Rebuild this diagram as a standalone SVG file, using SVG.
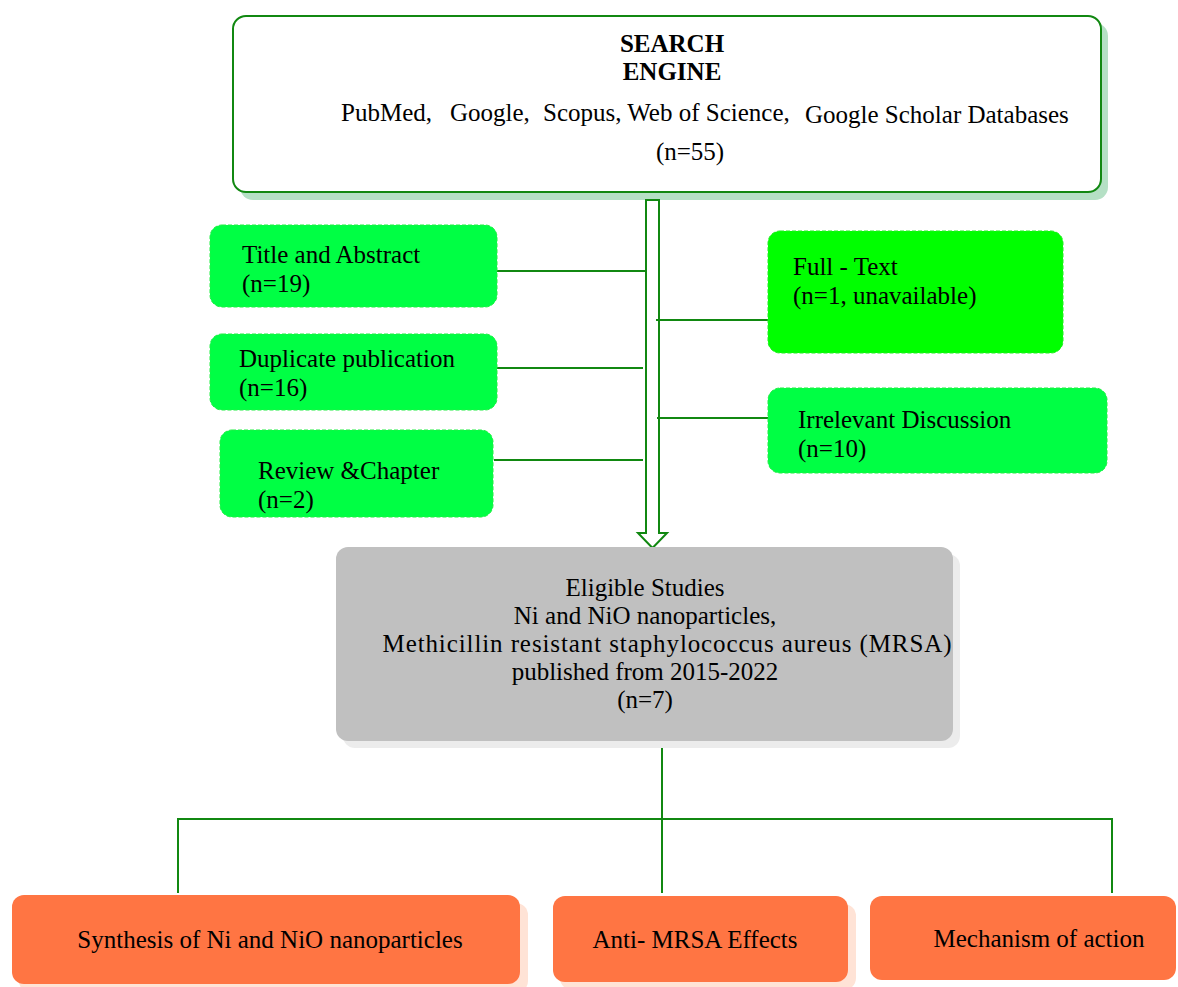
<svg xmlns="http://www.w3.org/2000/svg" width="1178" height="987" viewBox="0 0 1178 987">
<style>
text{font-family:"Liberation Serif","Times New Roman",serif;font-size:25px;fill:#000}
.b{font-weight:bold}
.m{text-anchor:middle}
.ln{stroke:#118811;stroke-width:2;fill:none}
.g1{fill:#00ff44;stroke:#22ee44;stroke-width:1;stroke-dasharray:4 2}
.g2{fill:#00ff00;stroke:#22ee22;stroke-width:1;stroke-dasharray:4 2}
.or{fill:#ff7543}
.ors{fill:#ffe3d6}
</style>
<rect width="1178" height="987" fill="#fff"/>
<g id="search">
<rect x="240" y="23" width="868" height="177" rx="13" fill="#b5e0c5"/>
<rect x="233" y="16" width="868" height="176" rx="13" fill="#fff" stroke="#118811" stroke-width="2"/>
<text class="b m" x="672" y="52">SEARCH</text>
<text class="b m" x="672" y="80">ENGINE</text>
<text x="341" y="121">PubMed,</text>
<text x="450" y="121">Google,</text>
<text x="543" y="121">Scopus, Web of Science,</text>
<text x="805" y="123">Google Scholar Databases</text>
<text class="m" x="690" y="160">(n=55)</text>
</g>
<g id="connectors">
<path d="M646 200 V533 H638 L652.5 548 L667 533 H659 V200 Z" fill="#fff" stroke="#118811" stroke-width="2" stroke-linejoin="miter"/>
<line class="ln" x1="497" y1="271" x2="645" y2="271"/>
<line class="ln" x1="494" y1="368" x2="643" y2="368"/>
<line class="ln" x1="494" y1="460" x2="643" y2="460"/>
<line class="ln" x1="656" y1="320" x2="768" y2="320"/>
<line class="ln" x1="657" y1="418" x2="768" y2="418"/>
<line class="ln" x1="662" y1="741" x2="662" y2="893"/>
<polyline class="ln" points="178,893 178,819 1112,819 1112,893"/>
</g>
<g id="title-abstract">
<rect class="g1" x="210" y="225" width="287" height="82" rx="12"/>
<text x="242" y="263">Title and Abstract</text>
<text x="242" y="292">(n=19)</text>
</g>
<g id="duplicate">
<rect class="g1" x="210" y="334" width="287" height="76" rx="12"/>
<text x="239" y="367">Duplicate publication</text>
<text x="239" y="396">(n=16)</text>
</g>
<g id="review">
<rect class="g1" x="220" y="430" width="273" height="87" rx="12"/>
<text x="258" y="479">Review &amp;Chapter</text>
<text x="258" y="508">(n=2)</text>
</g>
<g id="full-text">
<rect class="g2" x="768" y="231" width="295" height="122" rx="12"/>
<text x="793" y="275">Full - Text</text>
<text x="793" y="304">(n=1, unavailable)</text>
</g>
<g id="irrelevant">
<rect class="g1" x="768" y="388" width="339" height="85" rx="12"/>
<text x="798" y="428">Irrelevant Discussion</text>
<text x="798" y="457">(n=10)</text>
</g>
<g id="eligible">
<rect x="343" y="554" width="617" height="194" rx="12" fill="#ececec"/>
<rect x="336" y="547" width="617" height="194" rx="12" fill="#c0c0c0"/>
<text class="m" x="645" y="596">Eligible Studies</text>
<text class="m" x="645" y="624">Ni and NiO nanoparticles,</text>
<text class="m" x="667" y="652" textLength="569" lengthAdjust="spacing">Methicillin resistant staphylococcus aureus (MRSA)</text>
<text class="m" x="645" y="680">published from 2015-2022</text>
<text class="m" x="645" y="708">(n=7)</text>
</g>
<g id="synthesis">
<rect class="ors" x="19" y="903" width="509" height="90" rx="12"/>
<rect class="or" x="12" y="895" width="508" height="89" rx="12"/>
<text class="m" x="270" y="948">Synthesis of Ni and NiO nanoparticles</text>
</g>
<g id="anti-mrsa">
<rect class="ors" x="560" y="904" width="296" height="86" rx="12"/>
<rect class="or" x="553" y="896" width="295" height="86" rx="12"/>
<text class="m" x="695" y="948">Anti- MRSA Effects</text>
</g>
<g id="mechanism">
<rect class="or" x="870" y="896" width="306" height="84" rx="12"/>
<text class="m" x="1039" y="947">Mechanism of action</text>
</g>
</svg>
